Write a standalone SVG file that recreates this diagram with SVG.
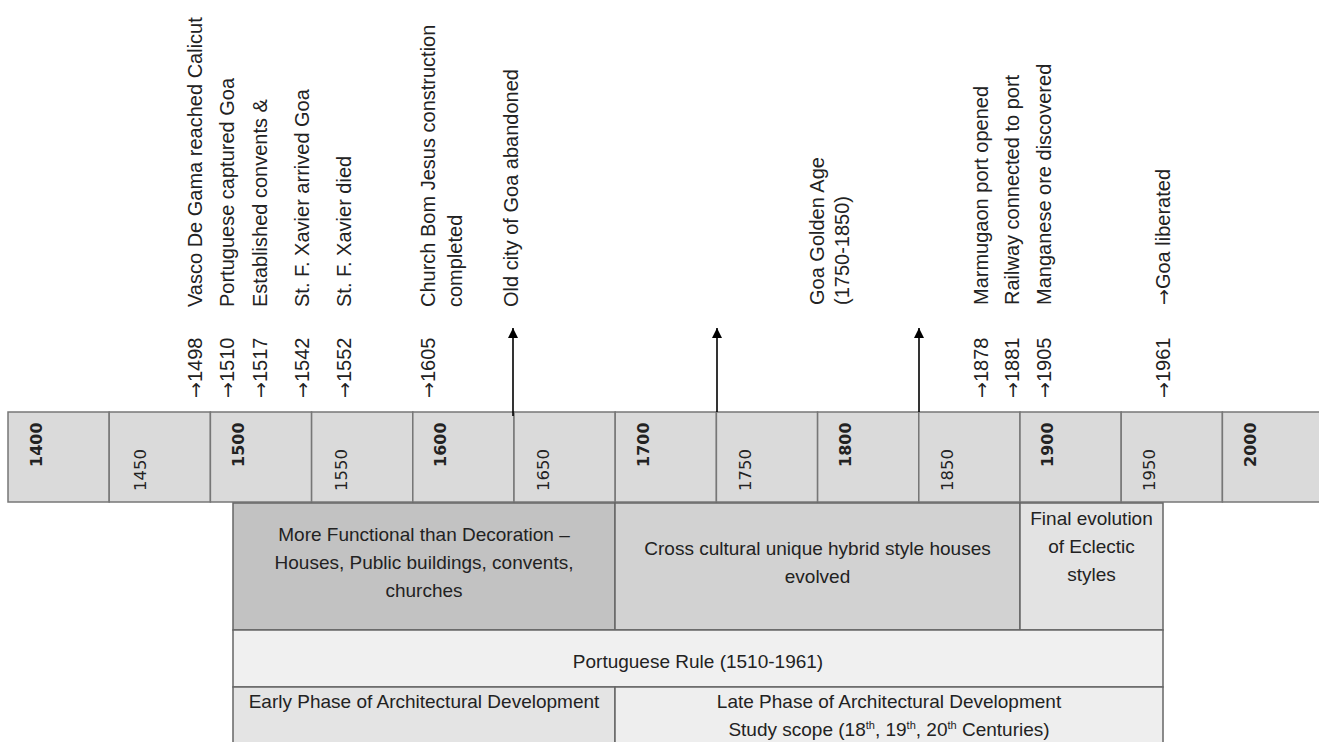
<svg xmlns="http://www.w3.org/2000/svg" width="1319" height="742" viewBox="0 0 1319 742">
<style>
.lbl{font-family:"Liberation Sans",Arial,sans-serif;font-size:20px;fill:#222}
.yr{font-family:"Liberation Sans",Arial,sans-serif;font-size:20px;fill:#222}
.ar{font-family:"DejaVu Sans",sans-serif;font-size:19px}
.cen{font-family:"DejaVu Sans",Verdana,sans-serif;font-size:16px;font-weight:bold;fill:#222}
.half{font-family:"DejaVu Sans",Verdana,sans-serif;font-size:16.5px;fill:#222}
.cell{fill:#dadada;stroke:#777;stroke-width:1.5}
.box{stroke:#666;stroke-width:1.5}
.bt{font-family:"Liberation Sans",Arial,sans-serif;font-size:19px;fill:#222;text-anchor:middle}
.conn{stroke:#000;stroke-width:1.6;fill:none}
</style>
<defs>
<marker id="ah" markerUnits="userSpaceOnUse" markerWidth="10" markerHeight="12" refX="10" refY="5" orient="auto" viewBox="0 0 10 10">
<path d="M0,0 L10,5 L0,10 z" fill="#000"/>
</marker>
</defs>
<rect width="1319" height="742" fill="#fff"/>

<g id="timeline">
<rect class="cell" x="8" y="412" width="101.2" height="90"/>
<rect class="cell" x="109.2" y="412" width="101.2" height="90"/>
<rect class="cell" x="210.4" y="412" width="101.2" height="90"/>
<rect class="cell" x="311.6" y="412" width="101.2" height="90"/>
<rect class="cell" x="412.8" y="412" width="101.2" height="90"/>
<rect class="cell" x="514" y="412" width="101.2" height="90"/>
<rect class="cell" x="615.2" y="412" width="101.2" height="90"/>
<rect class="cell" x="716.4" y="412" width="101.2" height="90"/>
<rect class="cell" x="817.6" y="412" width="101.2" height="90"/>
<rect class="cell" x="918.8" y="412" width="101.2" height="90"/>
<rect class="cell" x="1020" y="412" width="101.2" height="90"/>
<rect class="cell" x="1121.2" y="412" width="101.2" height="90"/>
<rect class="cell" x="1222.4" y="412" width="101.2" height="90"/>
<text class="cen" transform="translate(41.5,467) rotate(-90)">1400</text>
<text class="half" transform="translate(145.5,491) rotate(-90)">1450</text>
<text class="cen" transform="translate(243.5,467) rotate(-90)">1500</text>
<text class="half" transform="translate(347,491) rotate(-90)">1550</text>
<text class="cen" transform="translate(446,467) rotate(-90)">1600</text>
<text class="half" transform="translate(548.5,491) rotate(-90)">1650</text>
<text class="cen" transform="translate(648.5,467) rotate(-90)">1700</text>
<text class="half" transform="translate(751,491) rotate(-90)">1750</text>
<text class="cen" transform="translate(851,467) rotate(-90)">1800</text>
<text class="half" transform="translate(952.5,491) rotate(-90)">1850</text>
<text class="cen" transform="translate(1053,467) rotate(-90)">1900</text>
<text class="half" transform="translate(1154.5,491) rotate(-90)">1950</text>
<text class="cen" transform="translate(1256,467) rotate(-90)">2000</text>
</g>

<g id="events">
<text class="yr" transform="translate(202,398) rotate(-90)"><tspan class="ar">→</tspan>1498</text>
<text class="lbl" transform="translate(202,307) rotate(-90)">Vasco De Gama reached Calicut</text>
<text class="yr" transform="translate(234,398) rotate(-90)"><tspan class="ar">→</tspan>1510</text>
<text class="lbl" transform="translate(234,307) rotate(-90)">Portuguese captured Goa</text>
<text class="yr" transform="translate(267,398) rotate(-90)"><tspan class="ar">→</tspan>1517</text>
<text class="lbl" transform="translate(267,307) rotate(-90)">Established convents &amp;</text>
<text class="yr" transform="translate(309,398) rotate(-90)"><tspan class="ar">→</tspan>1542</text>
<text class="lbl" transform="translate(309,307) rotate(-90)">St. F. Xavier arrived Goa</text>
<text class="yr" transform="translate(351,398) rotate(-90)"><tspan class="ar">→</tspan>1552</text>
<text class="lbl" transform="translate(351,307) rotate(-90)">St. F. Xavier died</text>
<text class="yr" transform="translate(435,398) rotate(-90)"><tspan class="ar">→</tspan>1605</text>
<text class="lbl" transform="translate(435,307) rotate(-90)">Church Bom Jesus construction</text>
<text class="lbl" transform="translate(462,307) rotate(-90)">completed</text>
<text class="lbl" transform="translate(518,307) rotate(-90)">Old city of Goa abandoned</text>
<text class="lbl" transform="translate(824,305) rotate(-90)">Goa Golden Age</text>
<text class="lbl" transform="translate(849,305) rotate(-90)">(1750-1850)</text>
<text class="yr" transform="translate(988,398) rotate(-90)"><tspan class="ar">→</tspan>1878</text>
<text class="lbl" transform="translate(988,305) rotate(-90)">Marmugaon port opened</text>
<text class="yr" transform="translate(1019,398) rotate(-90)"><tspan class="ar">→</tspan>1881</text>
<text class="lbl" transform="translate(1019,305) rotate(-90)">Railway connected to port</text>
<text class="yr" transform="translate(1051,398) rotate(-90)"><tspan class="ar">→</tspan>1905</text>
<text class="lbl" transform="translate(1051,305) rotate(-90)">Manganese ore discovered</text>
<text class="yr" transform="translate(1170,398) rotate(-90)"><tspan class="ar">→</tspan>1961</text>
<text class="lbl" transform="translate(1170,305) rotate(-90)"><tspan class="ar">→</tspan>Goa liberated</text>
</g>

<g id="connectors">
<line class="conn" x1="513" y1="416" x2="513" y2="328" marker-end="url(#ah)"/>
<line class="conn" x1="717" y1="412" x2="717" y2="328" marker-end="url(#ah)"/>
<line class="conn" x1="919" y1="412" x2="919" y2="328" marker-end="url(#ah)"/>
</g>

<g id="box-functional">
<rect class="box" x="233" y="503" width="382" height="127" fill="#c2c2c2"/>
<text class="bt" x="424" y="541">More Functional than  Decoration –</text>
<text class="bt" x="424" y="569">Houses, Public buildings, convents,</text>
<text class="bt" x="424" y="597">churches</text>
</g>
<g id="box-hybrid">
<rect class="box" x="615" y="503" width="405" height="127" fill="#d2d2d2"/>
<text class="bt" x="817.5" y="555">Cross cultural unique hybrid style houses</text>
<text class="bt" x="817.5" y="583">evolved</text>
</g>
<g id="box-eclectic">
<rect class="box" x="1020" y="503" width="143" height="127" fill="#e3e3e3"/>
<text class="bt" x="1091.5" y="525">Final evolution</text>
<text class="bt" x="1091.5" y="553">of Eclectic</text>
<text class="bt" x="1091.5" y="581">styles</text>
</g>
<g id="box-rule">
<rect class="box" x="233" y="630" width="930" height="57" fill="#f0f0f0"/>
<text class="bt" x="698" y="668">Portuguese Rule (1510-1961)</text>
</g>
<g id="box-early">
<rect class="box" x="233" y="687" width="382" height="60" fill="#e4e4e4"/>
<text class="bt" x="424" y="708">Early Phase of Architectural Development</text>
</g>
<g id="box-late">
<rect class="box" x="615" y="687" width="548" height="60" fill="#eeeeee"/>
<text class="bt" x="889" y="708">Late Phase of Architectural Development</text>
<text class="bt" x="889" y="736">Study scope  (18<tspan font-size="11" dy="-7">th</tspan><tspan dy="7">, 19</tspan><tspan font-size="11" dy="-7">th</tspan><tspan dy="7">, 20</tspan><tspan font-size="11" dy="-7">th</tspan><tspan dy="7"> Centuries)</tspan></text>
</g>
</svg>
